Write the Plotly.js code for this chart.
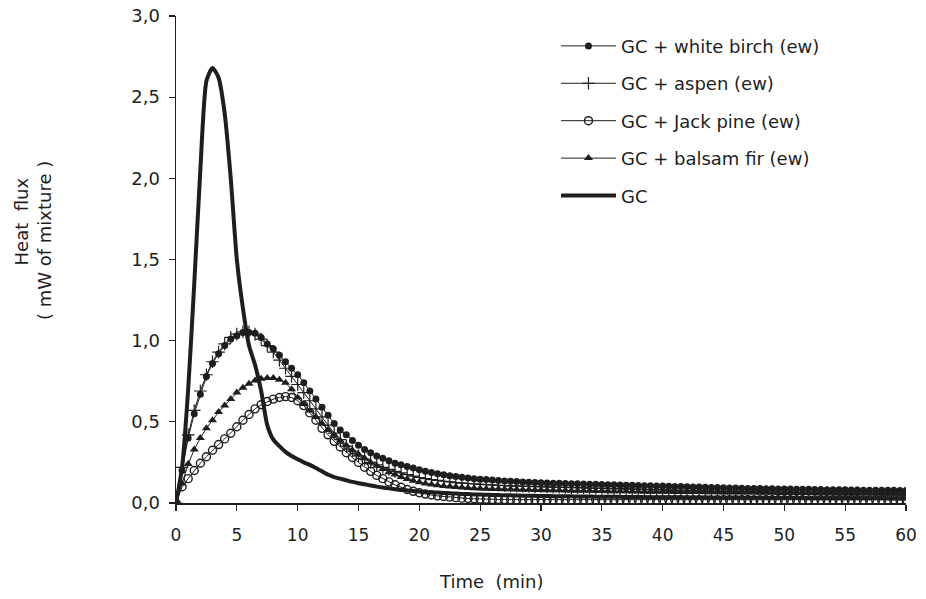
<!DOCTYPE html>
<html>
<head>
<meta charset="utf-8">
<script src="https://cdn.plot.ly/plotly-3.0.1.min.js"></script>
<style>html,body{margin:0;padding:0;background:#fff;}#chart{width:926px;height:599px;}</style>
</head>
<body>
<div id="chart"></div>
<script>
// Time (min)
var timeMin = [
  0, 0.5, 1, 1.5, 2, 2.5, 3, 3.5, 4, 4.5,
  5, 5.5, 6, 6.5, 7, 7.5, 8, 8.5, 9, 9.5,
  10, 10.5, 11, 11.5, 12, 12.5, 13, 13.5, 14, 14.5,
  15, 15.5, 16, 16.5, 17, 17.5, 18, 18.5, 19, 19.5,
  20, 20.5, 21, 21.5, 22, 22.5, 23, 23.5, 24, 24.5,
  25, 25.5, 26, 26.5, 27, 27.5, 28, 28.5, 29, 29.5,
  30, 30.5, 31, 31.5, 32, 32.5, 33, 33.5, 34, 34.5,
  35, 35.5, 36, 36.5, 37, 37.5, 38, 38.5, 39, 39.5,
  40, 40.5, 41, 41.5, 42, 42.5, 43, 43.5, 44, 44.5,
  45, 45.5, 46, 46.5, 47, 47.5, 48, 48.5, 49, 49.5,
  50, 50.5, 51, 51.5, 52, 52.5, 53, 53.5, 54, 54.5,
  55, 55.5, 56, 56.5, 57, 57.5, 58, 58.5, 59, 59.5,
  60
];

var whiteBirch = [
  0, 0.2, 0.4, 0.55, 0.67, 0.78, 0.86, 0.92, 0.97, 1.01,
  1.03, 1.05, 1.05, 1.045, 1.02, 0.98, 0.95, 0.91, 0.87, 0.83,
  0.79, 0.74, 0.69, 0.64, 0.59, 0.54, 0.49, 0.45, 0.42, 0.385,
  0.355, 0.33, 0.31, 0.29, 0.275, 0.26, 0.245, 0.235, 0.225, 0.215,
  0.205, 0.195, 0.188, 0.18, 0.174, 0.168, 0.163, 0.158, 0.154, 0.15,
  0.147, 0.144, 0.141, 0.138, 0.136, 0.134, 0.132, 0.13, 0.128, 0.126,
  0.124, 0.123, 0.122, 0.121, 0.12, 0.119, 0.118, 0.117, 0.116, 0.115,
  0.114, 0.113, 0.112, 0.111, 0.11, 0.109, 0.108, 0.107, 0.106, 0.105,
  0.104, 0.103, 0.102, 0.101, 0.1, 0.099, 0.098, 0.097, 0.096, 0.095,
  0.094, 0.093, 0.092, 0.091, 0.09, 0.09, 0.089, 0.088, 0.088, 0.087,
  0.086, 0.086, 0.085, 0.084, 0.084, 0.083, 0.083, 0.082, 0.082, 0.081,
  0.081, 0.08, 0.08, 0.079, 0.079, 0.079, 0.078, 0.078, 0.078, 0.077,
  0.077
];

var aspen = [
  0, 0.22, 0.42, 0.57, 0.69, 0.79, 0.87, 0.93, 0.98, 1.02,
  1.04, 1.055, 1.055, 1.04, 1.01, 0.97, 0.93, 0.88, 0.83, 0.78,
  0.73, 0.68, 0.63, 0.58, 0.53, 0.48, 0.43, 0.39, 0.35, 0.32,
  0.29, 0.27, 0.25, 0.235, 0.22, 0.207, 0.195, 0.185, 0.175, 0.165,
  0.157, 0.15, 0.144, 0.139, 0.134, 0.13, 0.126, 0.123, 0.12, 0.117,
  0.115, 0.113, 0.111, 0.109, 0.107, 0.105, 0.104, 0.103, 0.102, 0.101,
  0.1, 0.099, 0.098, 0.097, 0.096, 0.095, 0.094, 0.093, 0.092, 0.091,
  0.09, 0.089, 0.088, 0.087, 0.086, 0.085, 0.084, 0.083, 0.082, 0.081,
  0.08, 0.079, 0.078, 0.077, 0.077, 0.076, 0.075, 0.074, 0.074, 0.073,
  0.072, 0.071, 0.071, 0.07, 0.069, 0.069, 0.068, 0.067, 0.067, 0.066,
  0.066, 0.065, 0.065, 0.064, 0.064, 0.063, 0.063, 0.062, 0.062, 0.062,
  0.061, 0.061, 0.061, 0.06, 0.06, 0.06, 0.06, 0.059, 0.059, 0.059,
  0.059
];

var jackPine = [
  0, 0.1, 0.15, 0.2, 0.245, 0.285, 0.325, 0.36, 0.395, 0.43,
  0.47, 0.51, 0.545, 0.58, 0.605, 0.625, 0.64, 0.65, 0.655, 0.65,
  0.63, 0.6, 0.555, 0.51, 0.46, 0.42, 0.38, 0.345, 0.31, 0.28,
  0.25, 0.22, 0.195, 0.17, 0.15, 0.13, 0.112, 0.097, 0.083, 0.072,
  0.063, 0.055, 0.049, 0.044, 0.04, 0.036, 0.033, 0.03, 0.028, 0.026,
  0.024, 0.023, 0.022, 0.022, 0.021, 0.021, 0.02, 0.02, 0.02, 0.02,
  0.02, 0.02, 0.02, 0.019, 0.019, 0.019, 0.02, 0.02, 0.02, 0.02,
  0.02, 0.02, 0.019, 0.019, 0.02, 0.02, 0.02, 0.02, 0.02, 0.019,
  0.019, 0.02, 0.02, 0.02, 0.02, 0.02, 0.02, 0.019, 0.019, 0.02,
  0.02, 0.02, 0.02, 0.02, 0.02, 0.019, 0.019, 0.02, 0.02, 0.02,
  0.02, 0.02, 0.02, 0.02, 0.019, 0.019, 0.02, 0.02, 0.02, 0.02,
  0.02, 0.02, 0.02, 0.019, 0.019, 0.02, 0.02, 0.02, 0.02, 0.02,
  0.02
];

var balsamFir = [
  0, 0.12, 0.24, 0.33, 0.4, 0.46, 0.51, 0.56, 0.6, 0.64,
  0.68, 0.71, 0.735, 0.755, 0.765, 0.77, 0.77, 0.76, 0.74, 0.7,
  0.65, 0.61, 0.57, 0.53, 0.49, 0.45, 0.42, 0.385, 0.355, 0.325,
  0.3, 0.275, 0.25, 0.23, 0.21, 0.19, 0.175, 0.16, 0.148, 0.137,
  0.128, 0.12, 0.114, 0.109, 0.105, 0.101, 0.098, 0.095, 0.093, 0.091,
  0.089, 0.088, 0.087, 0.086, 0.085, 0.084, 0.083, 0.082, 0.081, 0.08,
  0.08, 0.079, 0.078, 0.078, 0.077, 0.076, 0.076, 0.075, 0.075, 0.074,
  0.074, 0.073, 0.073, 0.072, 0.072, 0.071, 0.071, 0.07, 0.07, 0.07,
  0.069, 0.069, 0.068, 0.068, 0.068, 0.067, 0.067, 0.066, 0.066, 0.066,
  0.065, 0.065, 0.065, 0.064, 0.064, 0.064, 0.063, 0.063, 0.063, 0.062,
  0.062, 0.062, 0.061, 0.061, 0.061, 0.06, 0.06, 0.06, 0.06, 0.059,
  0.059, 0.059, 0.058, 0.058, 0.058, 0.058, 0.057, 0.057, 0.057, 0.057,
  0.056
];

var gcOnly = [
  0, 0.22, 0.7, 1.35, 2.05, 2.6, 2.68, 2.62, 2.4, 2.0,
  1.5, 1.2, 0.97, 0.85, 0.69, 0.48, 0.39, 0.35, 0.315, 0.29,
  0.27, 0.25, 0.235, 0.215, 0.195, 0.175, 0.16, 0.15, 0.14, 0.13,
  0.122, 0.115, 0.108, 0.101, 0.095, 0.09, 0.085, 0.081, 0.077, 0.074,
  0.071, 0.068, 0.066, 0.064, 0.062, 0.06, 0.058, 0.056, 0.055, 0.053,
  0.052, 0.051, 0.05, 0.049, 0.048, 0.047, 0.046, 0.045, 0.045, 0.044,
  0.043, 0.043, 0.042, 0.042, 0.041, 0.041, 0.04, 0.04, 0.04, 0.039,
  0.039, 0.038, 0.038, 0.038, 0.037, 0.037, 0.037, 0.036, 0.036, 0.036,
  0.035, 0.035, 0.035, 0.035, 0.034, 0.034, 0.034, 0.034, 0.033, 0.033,
  0.033, 0.033, 0.033, 0.032, 0.032, 0.032, 0.032, 0.032, 0.031, 0.031,
  0.031, 0.031, 0.031, 0.031, 0.03, 0.03, 0.03, 0.03, 0.03, 0.03,
  0.03, 0.029, 0.029, 0.029, 0.029, 0.029, 0.029, 0.028, 0.028, 0.028,
  0.028
];

var seriesNames = ['GC + white birch (ew)', 'GC + aspen (ew)', 'GC + Jack pine (ew)', 'GC + balsam fir (ew)', 'GC'];
var yTickVals = [0, 0.5, 1, 1.5, 2, 2.5, 3];
var xTickVals = [0, 5, 10, 15, 20, 25, 30, 35, 40, 45, 50, 55, 60];
var xTitle = 'Time&nbsp;&nbsp;(min)';
var yTitleLine1 = 'Heat&nbsp;&nbsp;flux';
var yTitleLine2 = '( mW of mixture )';

var ink = '#1e1e1e';
var fontFam = 'DejaVu Sans, Verdana, sans-serif';

var traces = [
  {x: timeMin, y: whiteBirch, name: seriesNames[0], legendgroup: 'a', mode: 'lines+markers',
   line: {color: ink, width: 1}, marker: {symbol: 'circle', size: 7, color: ink}},
  {x: timeMin, y: aspen, name: seriesNames[1], legendgroup: 'b', mode: 'lines+markers',
   line: {color: ink, width: 1}, marker: {symbol: 'cross-thin-open', size: 9, color: ink, line: {color: ink, width: 1.2}}},
  {x: timeMin, y: jackPine, name: seriesNames[2], legendgroup: 'c', mode: 'lines+markers',
   line: {color: ink, width: 1}, marker: {symbol: 'circle-open', size: 8, color: ink, line: {color: ink, width: 1.4}}},
  {x: timeMin, y: balsamFir, name: seriesNames[3], legendgroup: 'd', mode: 'lines+markers',
   line: {color: ink, width: 1}, marker: {symbol: 'triangle-up', size: 8, color: ink}},
  {x: timeMin, y: gcOnly, name: seriesNames[4], legendgroup: 'e', mode: 'lines',
   line: {color: ink, width: 4, shape: 'spline', smoothing: 0.6}}
];

var layout = {
  width: 926, height: 599,
  paper_bgcolor: '#fff', plot_bgcolor: '#fff',
  separators: ',.',
  margin: {l: 176, r: 20, t: 16, b: 96},
  font: {family: fontFam, color: ink, size: 17},
  showlegend: true,
  legend: {
    x: 0.5205, y: 0.976, xanchor: 'left', yanchor: 'top',
    traceorder: 'grouped', tracegroupgap: 11,
    font: {family: fontFam, size: 18, color: ink},
    bgcolor: 'rgba(0,0,0,0)', itemwidth: 55
  },
  xaxis: {
    range: [0, 60], tickvals: xTickVals, ticks: 'outside', ticklen: 6, tickwidth: 1.2, tickcolor: ink,
    showline: true, linecolor: ink, linewidth: 1.5, showgrid: false, zeroline: false,
    tickfont: {family: fontFam, size: 17, color: ink}, ticklabelstandoff: 10
  },
  yaxis: {
    range: [0, 3], tickvals: yTickVals, tickformat: '.1f', ticks: 'outside', ticklen: 6, tickwidth: 1.2, tickcolor: ink,
    showline: true, linecolor: ink, linewidth: 1.5, showgrid: false, zeroline: false,
    tickfont: {family: fontFam, size: 18, color: ink}, ticklabelstandoff: 5
  },
  annotations: [
    {text: xTitle, xref: 'paper', yref: 'paper', x: 0.4315, y: -0.162, xanchor: 'center', yanchor: 'middle',
     showarrow: false, font: {family: fontFam, size: 18, color: ink}},
    {text: yTitleLine1, xref: 'paper', yref: 'paper', x: -0.211, y: 0.578, xanchor: 'center', yanchor: 'middle',
     textangle: -90, showarrow: false, font: {family: fontFam, size: 18, color: ink}},
    {text: yTitleLine2, xref: 'paper', yref: 'paper', x: -0.180, y: 0.539, xanchor: 'center', yanchor: 'middle',
     textangle: -90, showarrow: false, font: {family: fontFam, size: 18, color: ink}}
  ]
};

Plotly.newPlot('chart', traces, layout, {displayModeBar: false, staticPlot: true});
</script>
</body>
</html>
